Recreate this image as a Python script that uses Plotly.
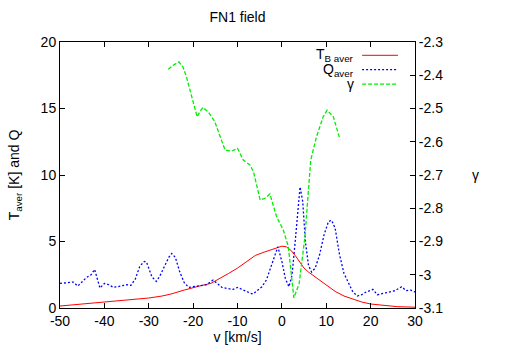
import plotly.graph_objects as go

# T_B aver (left axis)
v_t = [-50, -45, -40, -35, -30, -27, -25, -22, -20, -18, -16, -14, -12, -10, -8, -6,
       -4, -2, 0, 1, 2, 3, 4, 5, 6, 8, 10, 12, 14, 16, 18, 20, 23, 26, 30]
t_aver = [0.15, 0.3, 0.47, 0.58, 0.75, 0.9, 1.05, 1.35, 1.55, 1.7, 1.85, 2.2, 2.6, 3.0, 3.5, 3.95,
          4.2, 4.45, 4.65, 4.6, 4.35, 3.95, 3.5, 3.0, 2.7, 2.2, 1.7, 1.25, 0.9, 0.65, 0.45, 0.3, 0.18, 0.1, 0.06]

# Q aver (left axis)
v_q = [-50, -48, -47, -46, -45, -44, -43, -42.2, -41, -40, -39, -38, -37, -36, -35, -34, -33, -32,
       -31, -30.5, -29.3, -28.3, -27.5, -26.5, -25.5, -24.8, -24, -23, -22, -21, -20, -18.5, -17,
       -15.5, -14.5, -13.5, -12, -11, -10, -9, -8, -7, -6.5, -5.5, -4.5, -3.5, -2.5, -1.5, -0.9,
       0, 0.8, 1.6, 2.3, 3, 3.6, 4.1, 4.7, 5.3, 6, 6.7, 7.5, 8.5, 9.5, 10.5, 11.2, 12, 13, 14, 15,
       16, 17, 18, 19, 20.5, 21.5, 23, 24, 25.5, 27, 28, 29, 30]
q_aver = [1.85, 1.9, 1.95, 1.65, 2.0, 2.3, 2.5, 2.9, 1.5, 1.85, 1.75, 1.55, 1.6, 1.7, 1.75, 1.7, 2.2, 3.15,
          3.5, 3.45, 2.35, 2.0, 2.4, 3.1, 3.8, 4.1, 3.8, 2.7, 1.9, 1.55, 1.6, 1.7, 1.75,
          2.1, 1.8, 1.55, 1.45, 1.4, 1.55, 1.4, 1.2, 1.1, 1.05, 1.3, 1.6, 2.1, 3.0, 4.0, 4.6,
          3.5, 2.2, 1.6, 2.5, 5.0, 7.5, 9.1, 8.0, 5.0, 3.2, 2.7, 3.0, 4.0, 5.5, 6.5, 6.6, 6.0, 4.0, 2.6, 1.9,
          1.2, 0.9, 1.0, 1.2, 1.4, 1.0, 1.1, 1.2, 1.3, 1.6, 1.3, 1.35, 1.2]

# gamma (right axis)
v_g = [-25.6, -24.5, -23.2, -22.3, -21.5, -20.3, -19.1, -18.5, -17.8, -16.6, -15.1, -13.9, -12.8,
       -11.3, -10, -8.7, -7.2, -6.4, -4.9, -3.8, -2.7, -1.2, 0.3, 1.45, 2.0, 2.7, 3.9, 5.2, 6.5,
       7.8, 9.3, 10.2, 11.6, 13.1]
gamma = [-2.382, -2.37, -2.36, -2.375, -2.405, -2.465, -2.525, -2.51, -2.497, -2.51, -2.54, -2.585, -2.625,
         -2.628, -2.62, -2.655, -2.67, -2.69, -2.775, -2.77, -2.757, -2.825, -2.865, -2.915, -2.99, -3.07,
         -3.026, -2.886, -2.655, -2.585, -2.525, -2.505, -2.525, -2.593]

x_ticks = [-50, -40, -30, -20, -10, 0, 10, 20, 30]
x_labels = ["-50", "-40", "-30", "-20", "-10", "0", "10", "20", "30"]
y_ticks = [0, 5, 10, 15, 20]
y2_ticks = [-3.1, -3.0, -2.9, -2.8, -2.7, -2.6, -2.5, -2.4, -2.3]
y2_labels = ["-3.1", "-3", "-2.9", "-2.8", "-2.7", "-2.6", "-2.5", "-2.4", "-2.3"]

FONT = "Liberation Sans, Arial, sans-serif"
series = [
    ("T<sub>B aver</sub>", "#ff0000", "solid", 1),
    ("Q<sub>aver</sub>", "#0000ff", "2px,2px", 1.3),
    ("γ", "#00ee00", "4px,2px", 1.3),
]

fig = go.Figure()
for (xs, ys, axis), (name, color, dash, w) in zip(
        [(v_t, t_aver, "y"), (v_q, q_aver, "y"), (v_g, gamma, "y2")], series):
    fig.add_trace(go.Scatter(x=xs, y=ys, mode="lines", yaxis=axis, name=name,
                             line=dict(color=color, width=w, dash=dash)))

# gnuplot-style key: text right-aligned, sample line to its right
for i, (name, color, dash, w) in enumerate(series):
    yy = 0.95 - i * 0.054
    fig.add_annotation(x=0.834, y=yy, xref="paper", yref="paper", text=name, showarrow=False,
                       xanchor="right", yanchor="middle", font=dict(size=14, color="black"))
    fig.add_shape(type="line", xref="paper", yref="paper", x0=0.851, x1=0.952, y0=yy, y1=yy,
                  line=dict(color=color, width=w, dash=dash))

fig.add_annotation(x=1.185, y=0.5, xref="paper", yref="paper", text="γ", showarrow=False,
                   font=dict(size=14, color="black"))

axis_common = dict(showline=True, linecolor="black", linewidth=1, ticks="inside", ticklen=5,
                   tickcolor="black", showgrid=False, zeroline=False, automargin=False,
                   tickfont=dict(size=14, color="black"))

fig.update_layout(
    width=506, height=354,
    margin=dict(l=60, r=91, t=42, b=46),
    paper_bgcolor="white", plot_bgcolor="white",
    font=dict(family=FONT, size=14, color="black"),
    showlegend=False,
    title=dict(text="FN1 field", x=0.4694, xanchor="center", y=0.952, yanchor="middle",
               font=dict(size=14)),
    xaxis=dict(range=[-50, 30], tickvals=x_ticks, ticktext=x_labels, mirror="ticks",
               title=dict(text="v [km/s]", standoff=4, font=dict(size=14)), **axis_common),
    yaxis=dict(range=[0, 20], tickvals=y_ticks,
               title=dict(text="T<sub>aver</sub> [K] and Q", standoff=17, font=dict(size=14)),
               **axis_common),
    yaxis2=dict(range=[-3.1, -2.3], tickvals=y2_ticks, ticktext=y2_labels, overlaying="y",
                side="right", **axis_common),
)

fig.write_html("out.html", config={"displayModeBar": False},
               post_script="document.body.style.margin='0';")
